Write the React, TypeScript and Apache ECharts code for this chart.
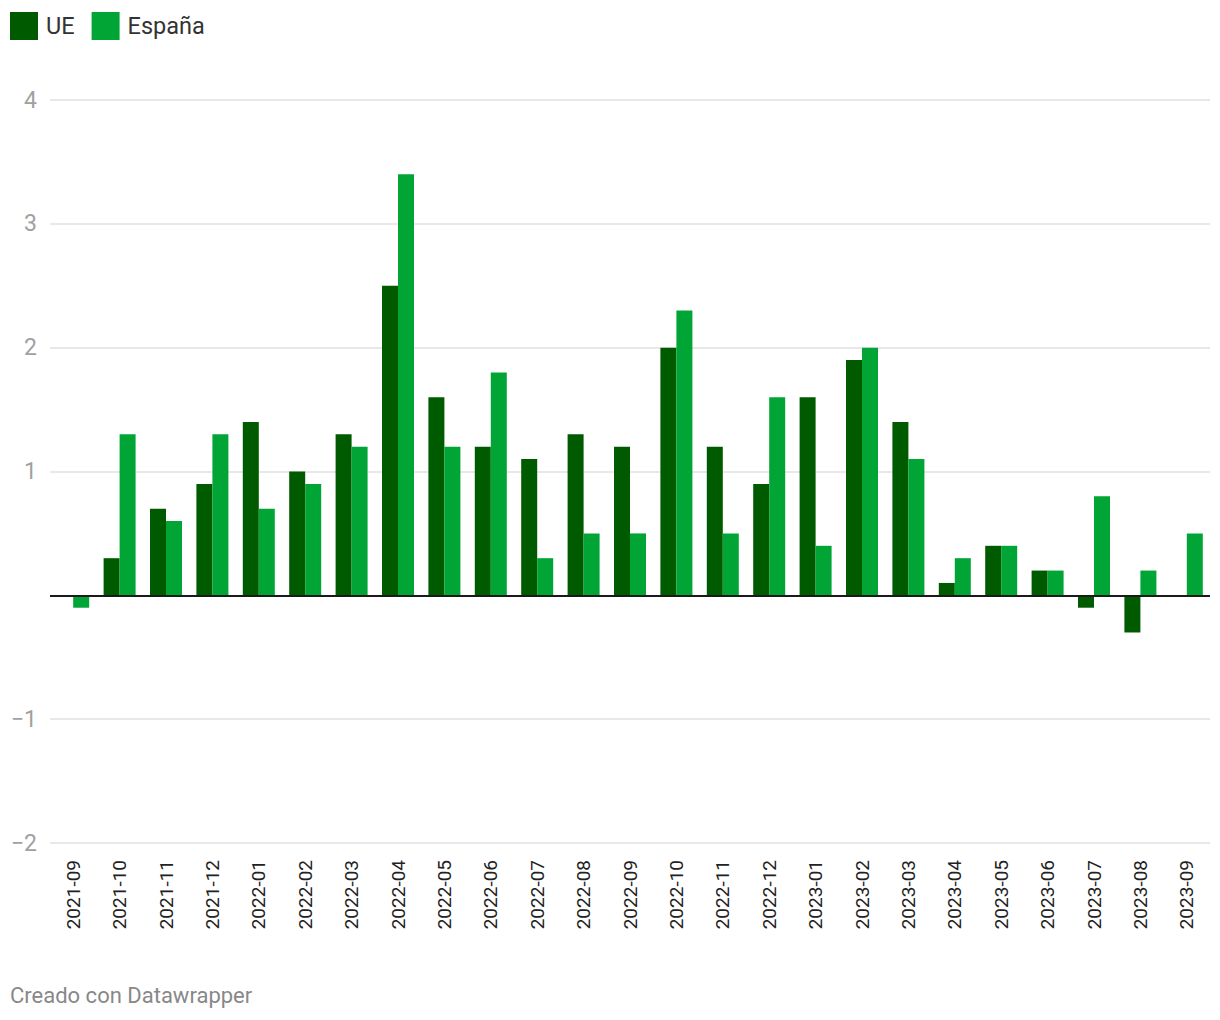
import React, { useEffect, useRef } from "react";
import * as echarts from "echarts";

const categories = [
  "2021-09", "2021-10", "2021-11", "2021-12",
  "2022-01", "2022-02", "2022-03", "2022-04", "2022-05", "2022-06",
  "2022-07", "2022-08", "2022-09", "2022-10", "2022-11", "2022-12",
  "2023-01", "2023-02", "2023-03", "2023-04", "2023-05", "2023-06",
  "2023-07", "2023-08", "2023-09",
];

const ueValues: (number | null)[] = [
  null, 0.3, 0.7, 0.9,
  1.4, 1.0, 1.3, 2.5, 1.6, 1.2,
  1.1, 1.3, 1.2, 2.0, 1.2, 0.9,
  1.6, 1.9, 1.4, 0.1, 0.4, 0.2,
  -0.1, -0.3, null,
];

const espanaValues: (number | null)[] = [
  -0.1, 1.3, 0.6, 1.3,
  0.7, 0.9, 1.2, 3.4, 1.2, 1.8,
  0.3, 0.5, 0.5, 2.3, 0.5, 1.6,
  0.4, 2.0, 1.1, 0.3, 0.4, 0.2,
  0.8, 0.2, 0.5,
];

const seriesNames = ["UE", "España"];
const yTicks = { min: -2, max: 4, interval: 1 };
const footer = "Creado con Datawrapper";

export default function App() {
  const ref = useRef<HTMLDivElement>(null);
  useEffect(() => {
    if (!ref.current) return;
    const chart = echarts.init(ref.current, null, { renderer: "svg" });
    const font = "Roboto, 'Noto Sans', sans-serif";
    chart.setOption({
      animation: false,
      textStyle: { fontFamily: font },
      legend: {
        left: 10,
        top: 12,
        padding: 0,
        icon: "rect",
        itemWidth: 28,
        itemHeight: 28,
        itemGap: 17,
        textStyle: { fontSize: 23.5, color: "#333", fontFamily: font, padding: [0, 0, 0, 3] },
        data: seriesNames,
      },
      grid: { left: 50, right: 10, top: 100, bottom: 177, containLabel: false },
      xAxis: {
        type: "category",
        data: categories,
        axisLine: { show: false, onZero: false },
        axisTick: { show: false },
        axisLabel: {
          rotate: 90,
          fontSize: 19,
          color: "#222",
          margin: 17,
          interval: 0,
          fontFamily: font,
        },
      },
      yAxis: {
        type: "value",
        min: yTicks.min,
        max: yTicks.max,
        interval: yTicks.interval,
        axisLine: { show: false },
        axisTick: { show: false },
        splitLine: { lineStyle: { color: "#e0e0e0", width: 1.5 } },
        axisLabel: {
          fontSize: 23,
          color: "#a0a0a0",
          margin: 13,
          fontFamily: font,
          formatter: (v: number) => (v === 0 ? "" : v < 0 ? "\u2212" + Math.abs(v) : String(v)),
        },
      },
      series: [
        {
          name: seriesNames[0],
          type: "bar",
          data: ueValues,
          barWidth: 16,
          barGap: "0%",
          itemStyle: { color: "#005a00" },
        },
        {
          name: seriesNames[1],
          type: "bar",
          data: espanaValues,
          barWidth: 16,
          barGap: "0%",
          itemStyle: { color: "#00a535" },
          markLine: {
            silent: true,
            symbol: "none",
            label: { show: false },
            lineStyle: { color: "#1a1a1a", width: 2, type: "solid" },
            data: [{ yAxis: 0 }],
            z: 10,
          },
        },
      ],
      graphic: [
        {
          type: "text",
          left: 10,
          top: 984,
          style: { text: footer, fontSize: 22, fill: "#888", fontFamily: font },
        },
      ],
    });
    return () => chart.dispose();
  }, []);
  return (
    <div
      ref={ref}
      style={{ position: "absolute", left: 0, top: 0, width: 1220, height: 1020, background: "#fff" }}
    />
  );
}
